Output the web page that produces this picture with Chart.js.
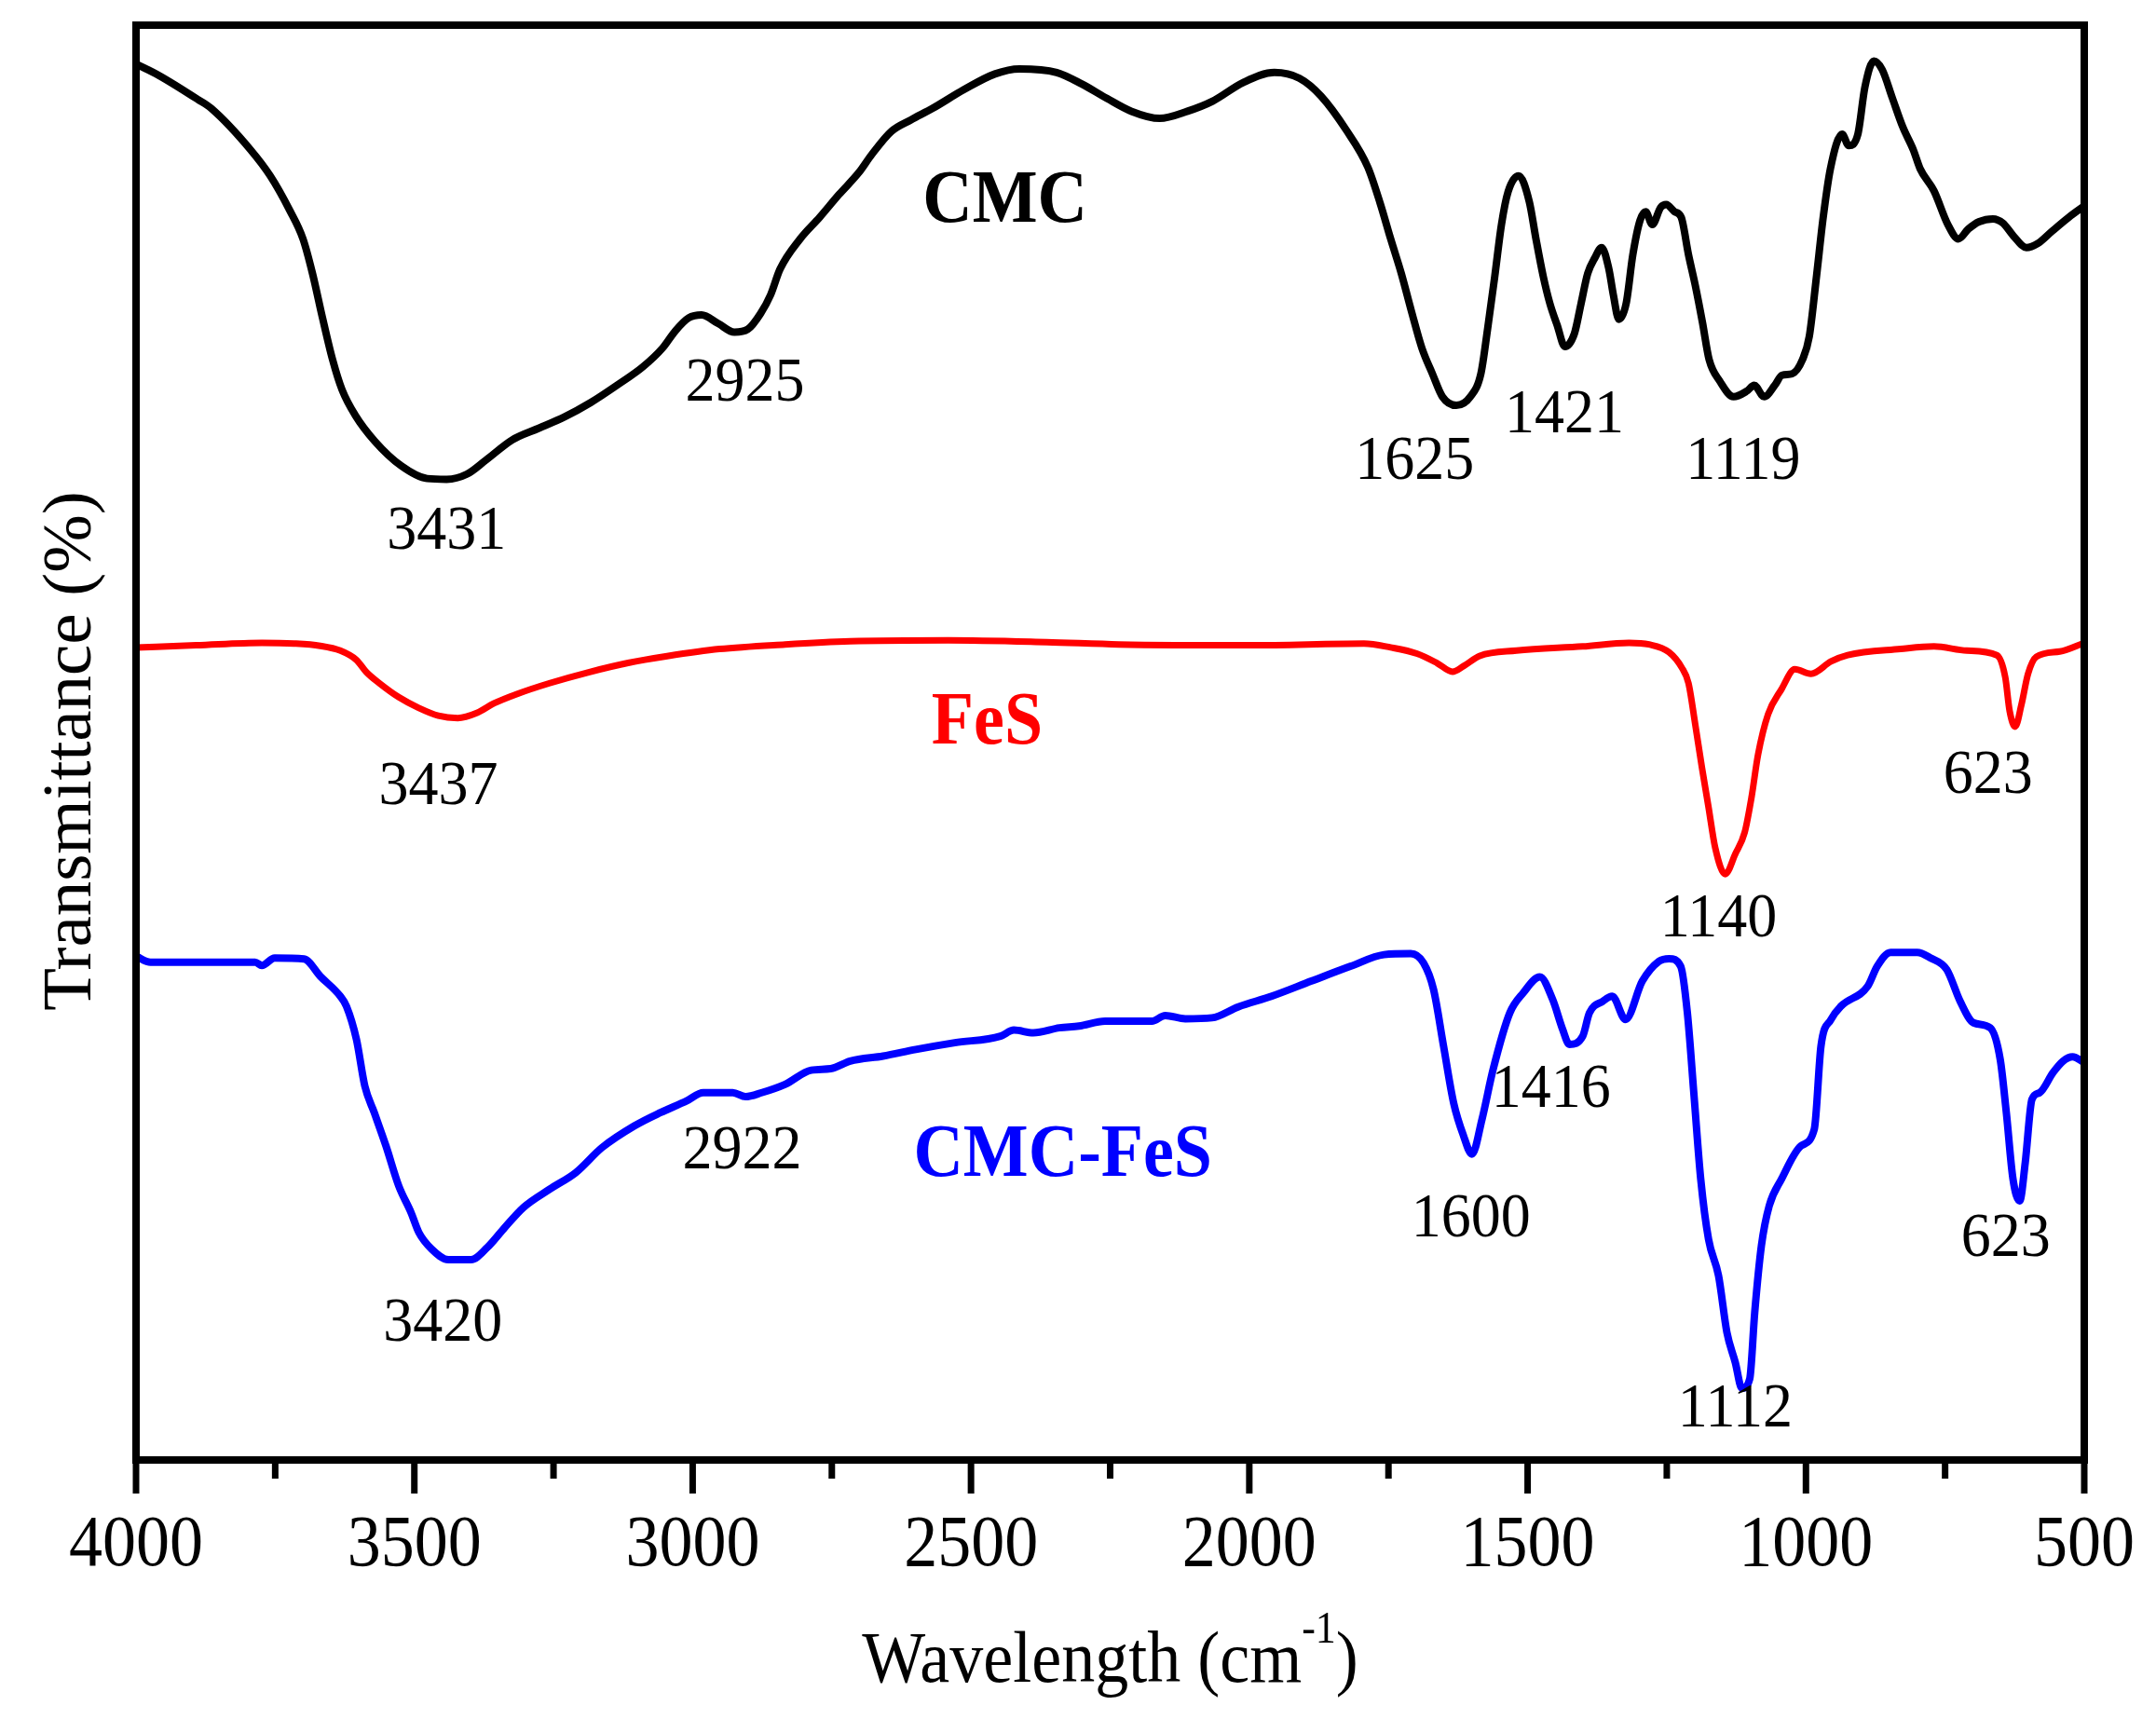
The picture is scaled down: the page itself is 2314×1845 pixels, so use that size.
<!DOCTYPE html>
<html lang="en">
<head>
  <meta charset="UTF-8">
  <title>FTIR spectra - CMC, FeS, CMC-FeS</title>
  <script src="https://cdn.jsdelivr.net/npm/chart.js@4.4.1/dist/chart.umd.min.js"></script>
  <style>
    html, body { margin: 0; padding: 0; background: #fff; }
    #wrap { width: 2314px; height: 1845px; }
  </style>
</head>
<body>
<div id="wrap"><canvas id="ftirChart" width="2314" height="1845"></canvas></div>
<script>
// x axis tick labels (wavenumber, cm-1)
const tickValues = [4000, 3500, 3000, 2500, 2000, 1500, 1000, 500];
const minorTickValues = [3750, 3250, 2750, 2250, 1750, 1250, 750];

// CMC (black), curves are stacked with an offset, y is arbitrary %
const cmcWave = [4000, 3959, 3888, 3865, 3794, 3759, 3724, 3700, 3683, 3665,
  3647, 3630, 3606, 3571, 3524, 3477, 3442, 3406, 3371, 3324,
  3277, 3230, 3183, 3136, 3089, 3054, 3031, 3007, 2984, 2954,
  2925, 2901, 2878, 2860, 2843, 2807, 2772, 2737, 2702, 2678,
  2643, 2608, 2569, 2513, 2457, 2413, 2346, 2301, 2256, 2212,
  2161, 2111, 2066, 2011, 1955, 1910, 1871, 1826, 1787, 1765,
  1746, 1727, 1709, 1690,
  1671, 1653, 1628, 1603, 1584, 1572, 1559, 1547, 1535, 1516,
  1497, 1485, 1472, 1460, 1447, 1433, 1416, 1404, 1392, 1379,
  1367, 1354, 1346, 1336, 1323, 1311, 1298, 1288, 1276, 1261,
  1251, 1236, 1224, 1211, 1199, 1186, 1174, 1155, 1130, 1106,
  1093, 1075, 1056, 1043, 1025, 1006, 994, 981, 969, 956,
  935, 923, 907, 894, 878, 863, 845, 826, 807, 795,
  770, 745, 726, 708, 689, 664, 646, 627, 604, 583,
  559, 528, 500];
const cmcT = [97.3, 96.5, 94.8, 94.2, 91.3, 89.5, 87.1, 85.1, 82.7, 79.6,
  76.7, 74.6, 72.8, 71.0, 69.3, 68.4, 68.35, 68.7, 69.7, 71.1,
  71.9, 72.7, 73.7, 74.9, 76.2, 77.5, 78.7, 79.6, 79.8, 79.2,
  78.6, 78.8, 79.9, 81.2, 83.0, 85.1, 86.6, 88.2, 89.7, 91.0,
  92.6, 93.4, 94.2, 95.5, 96.6, 96.95, 96.7, 95.9, 94.9, 94.0,
  93.5, 94.0, 94.7, 96.0, 96.7, 96.3, 95.05, 92.7, 90.1, 87.6,
  85.1, 82.7, 80.1, 77.5,
  75.7, 74.1, 73.5, 74.1, 75.7, 78.8, 82.5, 86.1, 88.4, 89.5,
  87.7, 85.1, 82.5, 80.6, 79.1, 77.6, 78.5, 80.6, 82.7, 83.8,
  84.5, 83.0, 81.2, 79.5, 80.6, 84.0, 86.4, 87.0, 86.1, 87.3,
  87.5, 87.0, 86.6, 84.0, 81.9, 79.3, 76.7, 75.2, 74.1, 74.5,
  74.9, 74.1, 74.9, 75.6, 75.7, 76.7, 78.3, 82.5, 86.6, 90.0,
  92.4, 91.6, 92.35, 95.7, 97.5, 96.9, 94.95, 92.9, 91.3, 90.0,
  88.45, 86.1, 85.1, 85.8, 86.3, 86.5, 86.2, 85.3, 84.5, 84.8,
  85.6, 86.6, 87.4];

// FeS (red)
const fesWave = [4000, 3892, 3774, 3716, 3669, 3633, 3604, 3586, 3563, 3528,
  3492, 3457, 3422, 3387, 3357, 3316, 3257, 3187, 3116, 3046,
  2952, 2834, 2717, 2541, 2364, 2234, 1996, 1794, 1746, 1699,
  1663, 1635, 1615, 1586, 1520, 1401, 1318, 1282, 1246, 1223,
  1211, 1199, 1187, 1175, 1163, 1145, 1127, 1110, 1098, 1086,
  1068, 1044, 1020, 991, 955, 925, 830, 770, 711, 657,
  642, 634, 624, 613, 601, 586, 544, 500];
const fesT = [56.63, 56.78, 56.95, 56.9, 56.74, 56.41, 55.76, 54.9, 54.14, 53.16,
  52.41, 51.87, 51.71, 52.08, 52.73, 53.38, 54.14, 54.9, 55.55, 56.02,
  56.52, 56.84, 57.06, 57.13, 57.0, 56.84, 56.78, 56.9, 56.63, 56.2,
  55.55, 54.94, 55.33, 56.04, 56.41, 56.7, 56.95, 56.84, 56.3, 55.22,
  54.14, 51.3, 48.3, 45.5, 42.67, 40.83, 42.23, 43.75, 46.13, 49.16,
  51.97, 53.71, 55.11, 54.79, 55.65, 56.09, 56.52, 56.7, 56.41, 56.09,
  54.57, 52.19, 51.11, 52.62, 54.79, 55.98, 56.35, 56.95];

// CMC-FeS (blue)
const compWave = [4000, 3974, 3786, 3774, 3751, 3698, 3669, 3633, 3622, 3604,
  3589, 3572, 3551, 3528, 3506, 3492, 3469, 3439, 3398, 3369,
  3340, 3304, 3257, 3210, 3163, 3105, 3058, 3011, 2981, 2928,
  2905, 2876, 2834, 2787, 2752, 2717, 2658, 2599, 2529, 2447,
  2423, 2388, 2341, 2306, 2259,
  2175, 2151, 2115, 2067, 2020, 1960, 1889, 1818, 1758, 1710,
  1687, 1669, 1651, 1633, 1615, 1600, 1582, 1562, 1532, 1508,
  1478, 1455, 1437, 1425, 1401, 1389, 1365, 1348, 1324, 1294,
  1264, 1246, 1225, 1213, 1201, 1189, 1175, 1157, 1142, 1127,
  1115, 1101, 1092, 1080, 1066, 1044, 1009, 985, 973, 955,
  937, 889, 872, 848, 800, 776, 747, 723, 699, 669,
  651, 640, 628, 616, 606, 594, 580, 556, 538, 521,
  500];
const compT = [35.11, 34.69, 34.69, 34.46, 34.99, 34.92, 33.71, 32.32, 31.63, 29.31,
  26.06, 24.21, 21.89, 19.1, 17.25, 15.86, 14.7, 13.96, 13.96, 14.81,
  16.09, 17.6, 18.87, 20.03, 21.77, 23.28, 24.21, 25.02, 25.6, 25.6,
  25.32, 25.6, 26.18, 27.17, 27.27, 27.8, 28.15, 28.61, 29.08, 29.54,
  29.96, 29.77, 30.12, 30.24, 30.58,
  30.58, 30.98, 30.75, 30.82, 31.58, 32.32, 33.37, 34.41, 35.22, 35.29,
  34.64, 32.79, 28.84, 24.9, 22.58, 21.31, 23.74, 27.22, 31.16, 32.55,
  33.67, 32.09, 30.0, 28.96, 29.54, 31.16, 31.97, 32.32, 30.7, 33.37,
  34.76, 34.94, 34.41, 31.16, 25.37, 19.57, 15.39, 12.84, 8.9, 6.81,
  5.0, 5.65, 10.29, 14.93, 17.71, 19.57, 21.89, 23.05, 28.84, 30.7,
  31.63, 33.02, 34.41, 35.38, 35.38, 34.99, 34.18, 31.97, 30.47, 30.12,
  27.92, 24.21, 19.57, 18.06, 20.73, 25.13, 25.6, 27.0, 27.8, 28.1,
  27.7];

// peak labels: text, wavenumber, y
const peakLabels = [
  ['3431', 3442, 65.0], ['2925', 2906, 75.3], ['1625', 1703, 69.9], ['1421', 1434, 73.1], ['1119', 1113, 69.9],
  ['3437', 3457, 47.2], ['1140', 1157, 38.0], ['623', 673, 48.0],
  ['3420', 3449, 9.8], ['2922', 2911, 21.8], ['1600', 1602, 17.1], ['1416', 1458, 26.1], ['1112', 1127, 3.8], ['623', 641, 15.7]
];
// where each series name is written
const nameSpots = [[2439, 88.0], [2471, 51.6], [2335, 21.5]];

const serif = '"Liberation Serif", "Times New Roman", serif';

function toPoints(xs, ys) {
  return xs.map((w, i) => ({ x: w, y: ys[i] }));
}

// text slightly taller than wide, like the original figure
function tallText(ctx, text, x, y, font, color, sy) {
  ctx.save();
  ctx.font = font;
  ctx.fillStyle = color;
  ctx.textAlign = 'center';
  ctx.textBaseline = 'alphabetic';
  ctx.translate(x, y);
  ctx.scale(1, sy);
  ctx.fillText(text, 0, 0);
  ctx.restore();
}

const framePlugin = {
  id: 'frame',
  afterDraw(chart) {
    const ctx = chart.ctx;
    const a = chart.chartArea;
    const xs = chart.scales.x, ys = chart.scales.y;
    ctx.save();
    ctx.strokeStyle = '#000';
    ctx.lineWidth = 8;
    ctx.strokeRect(a.left, a.top, a.right - a.left, a.bottom - a.top);

    // tick marks + labels
    ctx.lineWidth = 7;
    minorTickValues.forEach(v => {
      const px = xs.getPixelForValue(v);
      ctx.beginPath(); ctx.moveTo(px, a.bottom); ctx.lineTo(px, a.bottom + 20); ctx.stroke();
    });
    tickValues.forEach(v => {
      const px = xs.getPixelForValue(v);
      ctx.beginPath(); ctx.moveTo(px, a.bottom); ctx.lineTo(px, a.bottom + 36); ctx.stroke();
      tallText(ctx, String(v), px, a.bottom + 113, '72px ' + serif, '#000', 1.08);
    });

    // peak positions
    peakLabels.forEach(([t, w, v]) => {
      tallText(ctx, t, xs.getPixelForValue(w), ys.getPixelForValue(v) + 23, '64px ' + serif, '#000', 1.07);
    });

    // series names
    chart.data.datasets.forEach((ds, i) => {
      const [w, v] = nameSpots[i];
      tallText(ctx, ds.label, xs.getPixelForValue(w), ys.getPixelForValue(v) + 26, 'bold 74px ' + serif, ds.borderColor, 1.08);
    });

    // x title with superscript
    ctx.font = '72px ' + serif;
    const main = 'Wavelength (cm';
    const wMain = ctx.measureText(main).width;
    ctx.font = '44px ' + serif;
    const wSup = ctx.measureText('-1').width;
    ctx.font = '72px ' + serif;
    const wEnd = ctx.measureText(')').width;
    const total = wMain + wSup + wEnd;
    const cx = (a.left + a.right) / 2;
    let sx = cx - total / 2;
    const base = 1805;
    ctx.fillStyle = '#000';
    ctx.textAlign = 'left';
    ctx.save(); ctx.translate(sx, base); ctx.scale(1, 1.1); ctx.fillText(main, 0, 0); ctx.restore();
    sx += wMain;
    ctx.save(); ctx.font = '44px ' + serif; ctx.translate(sx, base - 42); ctx.scale(1, 1.1); ctx.fillText('-1', 0, 0); ctx.restore();
    sx += wSup;
    ctx.save(); ctx.translate(sx, base); ctx.scale(1, 1.1); ctx.fillText(')', 0, 0); ctx.restore();

    // y title
    ctx.save();
    ctx.translate(97, (a.top + a.bottom) / 2 + 9);
    ctx.rotate(-Math.PI / 2);
    ctx.font = '75px ' + serif;
    ctx.textAlign = 'center';
    ctx.fillText('Transmittance (%)', 0, 0);
    ctx.restore();

    ctx.restore();
  }
};

const ctx = document.getElementById('ftirChart').getContext('2d');
new Chart(ctx, {
  type: 'line',
  data: {
    datasets: [
      { label: 'CMC', data: toPoints(cmcWave, cmcT), borderColor: '#000000', borderWidth: 8 },
      { label: 'FeS', data: toPoints(fesWave, fesT), borderColor: '#ff0000', borderWidth: 7 },
      { label: 'CMC-FeS', data: toPoints(compWave, compT), borderColor: '#0000ff', borderWidth: 8 }
    ]
  },
  options: {
    responsive: false,
    animation: false,
    layout: { padding: { left: 146, right: 77, top: 27, bottom: 278 } },
    elements: {
      point: { radius: 0 },
      line: { cubicInterpolationMode: 'monotone', borderJoinStyle: 'round', borderCapStyle: 'round', fill: false }
    },
    scales: {
      x: { type: 'linear', min: 500, max: 4000, reverse: true, display: false },
      y: { type: 'linear', min: 0, max: 100, display: false }
    },
    plugins: {
      legend: { display: false },
      tooltip: { enabled: false }
    }
  },
  plugins: [framePlugin]
});
</script>
</body>
</html>
